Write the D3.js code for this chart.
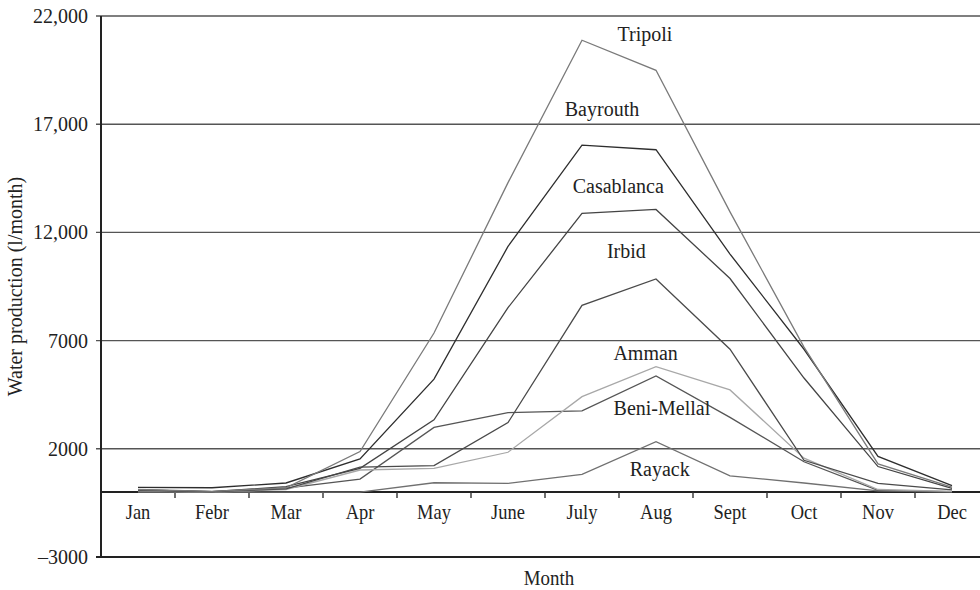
<!DOCTYPE html>
<html>
<head>
<meta charset="utf-8">
<script src="https://cdn.jsdelivr.net/npm/d3@7"></script>
<style>
body { margin: 0; background: #fff; }
text { font-family: "Liberation Serif", "DejaVu Serif", serif; fill: #222; }
</style>
</head>
<body>
<div id="graph"></div>
<script>
var months = ["Jan", "Febr", "Mar", "Apr", "May", "June", "July", "Aug", "Sept", "Oct", "Nov", "Dec"];
var yTicks = [-3000, 2000, 7000, 12000, 17000, 22000];

var tripoli    = [120, 30, 200, 1870, 7350, 14300, 20880, 19490, 12950, 6700, 1300, 230];
var bayrouth   = [220, 200, 420, 1530, 5220, 11350, 16030, 15820, 11000, 6600, 1650, 300];
var casablanca = [100, 20, 250, 1100, 3340, 8520, 12880, 13060, 9870, 5270, 1180, 170];
var irbid      = [80, 10, 150, 1150, 1220, 3210, 8630, 9850, 6600, 1470, 400, 100];
var amman      = [60, 0, 120, 1020, 1100, 1840, 4410, 5800, 4720, 1570, 120, 30];
var beniMellal = [100, 20, 180, 600, 2990, 3670, 3750, 5370, 3450, 1400, 80, 20];
var rayack     = [0, 0, 0, 0, 430, 400, 820, 2330, 750, 420, 60, 0];

var seriesNames = ["Tripoli", "Bayrouth", "Casablanca", "Irbid", "Amman", "Beni-Mellal", "Rayack"];
var seriesData = [tripoli, bayrouth, casablanca, irbid, amman, beniMellal, rayack];
var seriesColors = ["#7a7a7a", "#2e2e2e", "#444", "#4a4a4a", "#a8a8a8", "#555", "#707070"];
// where each name sits: month index (fractional) and value of text baseline
var labelAt = [6.85, 6.27, 6.49, 6.6, 6.86, 7.08, 7.05];
var labelVal = [20830, 17400, 13800, 10830, 6110, 3560, 740];

var graph_width = 980, graph_height = 590;
var plot_left = 101, plot_right = 989, plot_top = 16, plot_bottom = 557;
var font_size = 20;

var svg = d3.select("#graph").append("svg")
    .attr("width", graph_width)
    .attr("height", graph_height);

var x = d3.scalePoint().domain(months).range([plot_left, plot_right]).padding(0.5);
var step = x.step();
var y = d3.scaleLinear().domain([-3000, 22000]).range([plot_bottom, plot_top]);

// gridlines
svg.selectAll(".grid").data(yTicks).enter().append("line")
    .attr("x1", plot_left - 5).attr("x2", graph_width)
    .attr("y1", function(d) { return y(d); })
    .attr("y2", function(d) { return y(d); })
    .attr("stroke", function(d) { return d == -3000 ? "#222" : "#555"; })
    .attr("stroke-width", function(d) { return d == -3000 ? 2 : 1.4; });

// y tick labels
svg.selectAll(".ylab").data(yTicks).enter().append("text")
    .attr("x", plot_left - 13)
    .attr("y", function(d) { return y(d) + 7; })
    .attr("text-anchor", "end")
    .attr("font-size", font_size)
    .text(function(d) { return d < 0 ? "\u2013" + Math.abs(d) : (d >= 10000 ? d3.format(",")(d) : d); });

// y axis line
svg.append("line")
    .attr("x1", plot_left).attr("x2", plot_left)
    .attr("y1", plot_top).attr("y2", plot_bottom)
    .attr("stroke", "#222").attr("stroke-width", 2);

// zero line with category ticks
svg.append("line")
    .attr("x1", plot_left).attr("x2", graph_width)
    .attr("y1", y(0)).attr("y2", y(0))
    .attr("stroke", "#222").attr("stroke-width", 2);
svg.selectAll(".xtick").data(months.slice(1)).enter().append("line")
    .attr("x1", function(d) { return x(d) - step / 2; })
    .attr("x2", function(d) { return x(d) - step / 2; })
    .attr("y1", y(0)).attr("y2", y(0) + 6)
    .attr("stroke", "#333").attr("stroke-width", 1.4);

// month labels, a bit condensed like the original
svg.selectAll(".xlab").data(months).enter().append("text")
    .attr("transform", function(d) { return "translate(" + x(d) + "," + (y(0) + 27) + ") scale(0.88,1)"; })
    .attr("text-anchor", "middle")
    .attr("font-size", 21)
    .text(function(d) { return d; });

// series lines
var line = d3.line()
    .x(function(d, i) { return x(months[i]); })
    .y(function(d) { return y(d); });

for (var s = seriesData.length - 1; s >= 0; s--)
{
    svg.append("path")
        .datum(seriesData[s])
        .attr("d", line)
        .attr("fill", "none")
        .attr("stroke", seriesColors[s])
        .attr("stroke-width", 1.3);
}

// series names
for (var s = 0; s < seriesNames.length; s++)
{
    svg.append("text")
        .attr("x", x(months[0]) + labelAt[s] * step)
        .attr("y", y(labelVal[s]))
        .attr("text-anchor", "middle")
        .attr("font-size", font_size)
        .text(seriesNames[s]);
}

// axis titles
svg.append("text")
    .attr("transform", "translate(" + ((plot_left + plot_right) / 2 + 4) + ",585) scale(0.9,1)")
    .attr("text-anchor", "middle")
    .attr("font-size", 21)
    .text("Month");

svg.append("text")
    .attr("transform", "translate(22," + ((plot_top + plot_bottom) / 2) + ") rotate(-90)")
    .attr("text-anchor", "middle")
    .attr("font-size", font_size)
    .text("Water production (l/month)");
</script>
</body>
</html>
